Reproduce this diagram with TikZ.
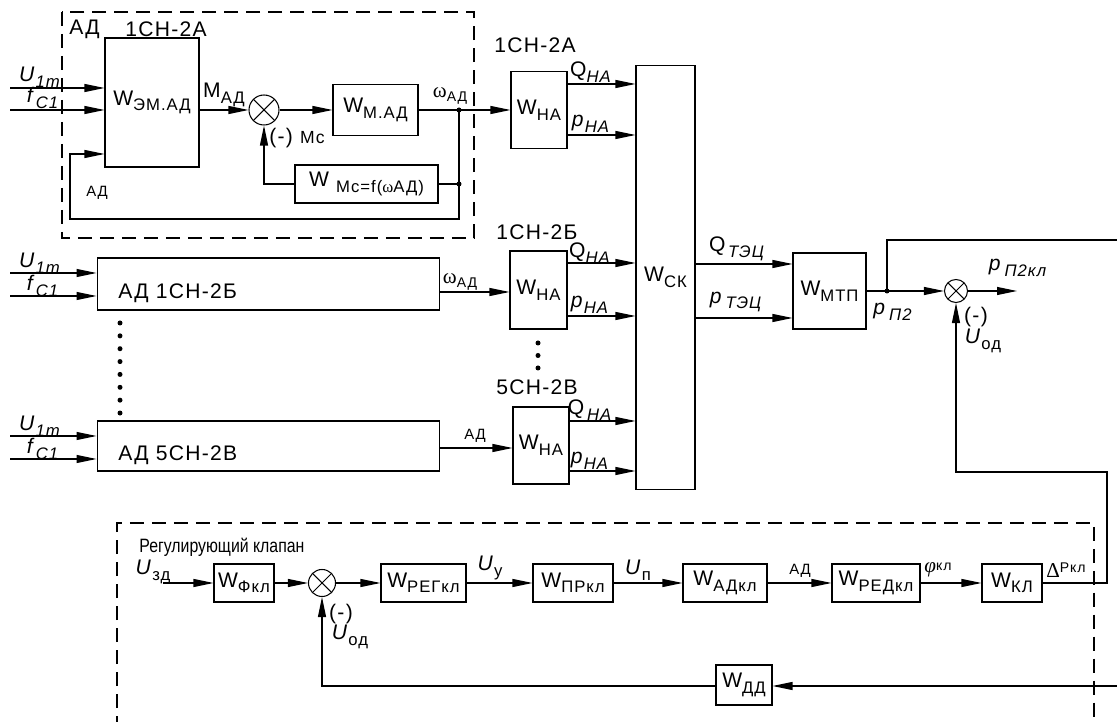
\documentclass[tikz,border=0pt]{standalone}
\usepackage{fontspec}
\setmainfont{Liberation Sans}[LetterSpace=6]
\newfontfamily\plainf{Liberation Sans}
\newfontfamily\symf{Liberation Serif}
\usetikzlibrary{arrows.meta}
\newcommand{\lo}[1]{\raisebox{-0.5ex}{\fontsize{9.5}{10}\selectfont #1}}
\newcommand{\tlo}[1]{\raisebox{-0.4ex}{\fontsize{8}{9}\selectfont #1}}

\begin{document}
\begin{tikzpicture}[x=0.02cm,y=-0.02cm,
  font=\fontsize{12}{14}\selectfont,
  line width=0.6pt,
  blk/.style={draw,inner sep=0pt},
  arr/.style={-{Triangle[length=4mm,width=1.6mm]}},
  sumjn/.style={circle,draw,inner sep=0pt,minimum size=0.56cm,
    path picture={\draw (path picture bounding box.north west) -- (path picture bounding box.south east)
      (path picture bounding box.north east) -- (path picture bounding box.south west);}},
  dashbox/.style={dash pattern=on 2.8mm off 1.6mm},
  dot/.style={circle,fill,inner sep=0pt,minimum size=1mm}]
\useasboundingbox (0,0) rectangle (1117,722);

% motor 1CH-2A
\draw[dashbox] (62,12) rectangle (474,238);
\node[anchor=west] (tAD) at (63,29) {АД};
\node[anchor=west] (tA1) at (119,29) {1СН-2А};
\node[blk,minimum width=1.88cm,minimum height=2.58cm] (wem) at (152,102.5) {W\lo{ЭМ.АД}};
\node[sumjn,minimum size=0.6cm] (s1) at (264,110) {};
\node[blk,minimum width=1.7cm,minimum height=1.02cm] (wmad) at (375.5,110) {W\lo{М.АД}};
\node[blk,minimum width=2.86cm,minimum height=0.76cm] (wmc) at (366.5,184) {W \lo{Мс=f({\symf ω}АД)}};
\node[dot] (j1) at (459,110) {};
\node[dot] (j2) at (459,184) {};
\coordinate (u1) at (10,88);
\coordinate (f1) at (10,110);
\coordinate (fb1) at (70,219);
\draw[arr] (u1) -- (wem.west |- u1);
\draw[arr] (f1) -- (wem.west |- f1);
\node (lu1) at (40,77) {\textit{U}\lo{\textit{1m}}};
\node (lf1) at (43,98) {\textit{f}\lo{\textit{C1}}};
\draw[arr] (j1.center) -- (j1.center |- fb1) -- (fb1) -- (fb1 |- 0,154) -- (wem.west |- 0,154);
\node (lad) at (97,193) {\fontsize{8.5}{9}\selectfont АД};
\draw[arr] (wem.east |- s1) -- (s1.west);
\node (lm) at (224,95) {М\lo{АД}};
\draw[arr] (s1.east) -- (wmad.west);
\draw (j2.center) -- (wmc.east);
\draw[arr] (wmc.west) -| (s1.south);
\node (lmc) at (297,138) {(-) {\fontsize{10}{11}\selectfont Мс}};

% pumps
\node[anchor=west] (tA2) at (488,45) {1СН-2А};
\node[blk,minimum width=1.12cm,minimum height=1.54cm] (whaA) at (539,110) {W\lo{НА}};
\node[blk,minimum width=1.18cm,minimum height=8.5cm] (wsk) at (665.5,277.5) {W\lo{СК}};
\draw[arr] (wmad.east) -- (whaA.west);
\node (lw1) at (450,96) {{\symf ω}\tlo{АД}};
\draw[arr] (whaA.east |- 0,84) -- (wsk.west |- 0,84);
\draw[arr] (whaA.east |- 0,135) -- (wsk.west |- 0,135);
\node (qA) at (591,72) {Q\lo{\textit{НА}}};
\node (pA) at (591,124) {\textit{p}\lo{\textit{НА}}};

\node[anchor=west] (tB) at (490,232) {1СН-2Б};
\node[blk,minimum width=6.86cm,minimum height=1.04cm] (adB) at (268.5,284) {};
\node[anchor=west] (tadB) at (112,293) {АД 1СН-2Б};
\coordinate (u2) at (10,273);
\coordinate (f2) at (10,296);
\draw[arr] (u2) -- (adB.west |- u2);
\draw[arr] (f2) -- (adB.west |- f2);
\node (lu2) at (40,263) {\textit{U}\lo{\textit{1m}}};
\node (lf2) at (43,286) {\textit{f}\lo{\textit{C1}}};
\node[blk,minimum width=1.14cm,minimum height=1.56cm] (whaB) at (538.5,290) {W\lo{НА}};
\draw[arr] (adB.east |- 0,292) -- (whaB.west |- 0,292);
\node (lw2) at (460,282) {{\symf ω}\tlo{АД}};
\draw[arr] (whaB.east |- 0,263) -- (wsk.west |- 0,263);
\draw[arr] (whaB.east |- 0,316) -- (wsk.west |- 0,316);
\node (qB) at (590,253) {Q\lo{\textit{НА}}};
\node (pB) at (590,305) {\textit{p}\lo{\textit{НА}}};
\foreach \i in {0,1,2}
  \node[dot] (hd\i) at (538,343+12.5*\i) {};

\node[anchor=west] (tC) at (490,387) {5СН-2В};
\node[blk,minimum width=6.86cm,minimum height=1.0cm] (adC) at (268.5,446) {};
\node[anchor=west] (tadC) at (112,455) {АД 5СН-2В};
\coordinate (u3) at (10,436);
\coordinate (f3) at (10,459);
\draw[arr] (u3) -- (adC.west |- u3);
\draw[arr] (f3) -- (adC.west |- f3);
\node (lu3) at (40,426) {\textit{U}\lo{\textit{1m}}};
\node (lf3) at (43,449) {\textit{f}\lo{\textit{C1}}};
\node[blk,minimum width=1.12cm,minimum height=1.54cm] (whaC) at (541,445.5) {W\lo{НА}};
\draw[arr] (adC.east |- 0,448) -- (whaC.west |- 0,448);
\node (lad3) at (475,436) {\fontsize{8.5}{9}\selectfont АД};
\draw[arr] (whaC.east |- 0,421) -- (wsk.west |- 0,421);
\draw[arr] (whaC.east |- 0,471) -- (wsk.west |- 0,471);
\node (qC) at (590,410) {Q\lo{\,\textit{НА}}};
\node (pC) at (590,461) {\textit{p}\lo{\textit{НА}}};
\foreach \i in {0,...,7}
  \node[dot] (vd\i) at (120,323+12.86*\i) {};

% main pipeline
\node[blk,minimum width=1.46cm,minimum height=1.52cm] (wmtp) at (829.5,291) {W\lo{МТП}};
\draw[arr] (wsk.east |- 0,264) -- (wmtp.west |- 0,264);
\draw[arr] (wsk.east |- 0,318) -- (wmtp.west |- 0,318);
\node (qT) at (737,249) {Q\lo{\,\textit{ТЭЦ}}};
\node (pT) at (736,302) {\textit{p}\lo{\,\textit{ТЭЦ}}};
\node[dot] (j3) at (887,291) {};
\node[sumjn,minimum size=0.46cm] (s2) at (956,291) {};
\coordinate (pout) at (1017,291);
\coordinate (top) at (1117,240);
\draw (wmtp.east |- j3) -- (j3.center);
\draw[arr] (j3.center) -- (s2.west);
\draw (j3.center) |- (top);
\draw[arr] (s2.east) -- (pout);
\node (lp2kl) at (1018,268) {\textit{p}\lo{\,\textit{П2кл}}};
\node (lp2) at (893,312) {\textit{p}\lo{\,\textit{П2}}};
\node (lm2) at (976,317) {(-)};
\node (lu4) at (983,341) {\textit{U}\lo{од}};

% control valve
\draw[dashbox] (117,730) -- (117,523) -- (1094,523) -- (1094,730);
\node[anchor=west] (treg) at (133,547) {\plainf\fontsize{11}{13}\selectfont\scalebox{0.82}[1]{Регулирующий клапан}};
\coordinate (uzd) at (163,583);
\node[blk,minimum width=1.2cm,minimum height=0.76cm] (wfkl) at (244,583) {W\lo{Фкл}};
\node[sumjn,minimum size=0.54cm] (s3) at (322,583) {};
\node[blk,minimum width=1.7cm,minimum height=0.76cm] (wreg) at (423.5,583) {W\lo{РЕГкл}};
\node[blk,minimum width=1.6cm,minimum height=0.76cm] (wpr) at (573,583) {W\lo{ПРкл}};
\node[blk,minimum width=1.68cm,minimum height=0.76cm] (wadkl) at (725,583) {W\lo{АДкл}};
\node[blk,minimum width=1.76cm,minimum height=0.76cm] (wred) at (876,583) {W\lo{РЕДкл}};
\node[blk,minimum width=1.2cm,minimum height=0.76cm] (wkl) at (1012,583) {W\lo{КЛ}};
\draw[arr] (uzd) -- (wfkl.west);
\draw[arr] (wfkl.east) -- (s3.west);
\draw[arr] (s3.east) -- (wreg.west);
\draw[arr] (wreg.east) -- (wpr.west);
\draw[arr] (wpr.east) -- (wadkl.west);
\draw[arr] (wadkl.east) -- (wred.west);
\draw[arr] (wred.east) -- (wkl.west);
\node (luzd) at (153,572) {\textit{U}\lo{зд}};
\node (luy) at (490,568) {\textit{U}\lo{у}};
\node (lun) at (638,570) {\textit{U}\lo{п}};
\node (lad4) at (800,571) {\fontsize{8.5}{9}\selectfont АД};
\node (lphi) at (938,570) {{\symf\itshape φ}\raisebox{0.2ex}{\fontsize{8}{9}\selectfont кл}};
\node (ldp) at (1066,570) {{\symf Δ}\raisebox{0.4ex}{\fontsize{8}{9}\selectfont Ркл}};
\node (lm3) at (341,614) {(-)};
\node (lu5) at (350,637) {\textit{U}\lo{од}};

% feedback
\coordinate (r1) at (1107,472);
\draw[arr] (wkl.east) -- (wkl.east -| r1) -- (r1) -- (r1 -| s2) -- (s2.south);
\coordinate (rb) at (1117,686);
\node[blk,minimum width=1.12cm,minimum height=0.8cm] (wdd) at (744,685) {W\lo{ДД}};
\draw[arr] (rb) -- (wdd.east |- rb);
\draw[arr] (wdd.west |- rb) -| (s3.south);
\end{tikzpicture}
\end{document}
